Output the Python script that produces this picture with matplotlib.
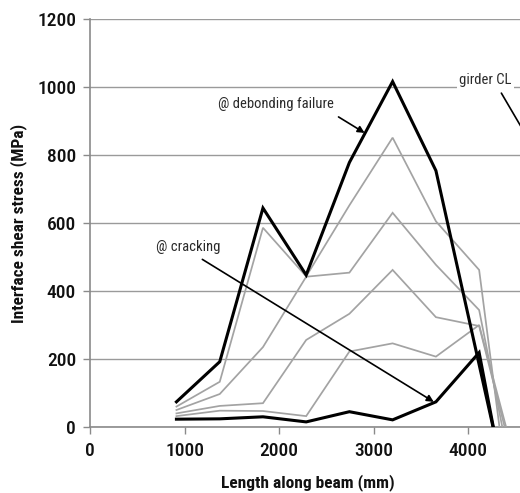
import matplotlib
matplotlib.use("Agg")
import os
import matplotlib.pyplot as plt
from matplotlib import font_manager
from matplotlib.font_manager import FontProperties

# ---- pick a condensed / narrow sans font if one is installed ----
def pick_font(target):
    prefs = ["liberation sans narrow", "arial narrow", "roboto condensed",
             "open sans condensed", "noto sans condensed", "dejavu sans condensed",
             "liberationsansnarrow", "robotocondensed", "opensanscondensed",
             "notosans-condensed", "dejavusanscondensed"]
    best = None
    best_score = None
    for f in font_manager.fontManager.ttflist:
        key = (f.name + " " + os.path.basename(f.fname)).lower()
        rank = None
        for i, p in enumerate(prefs):
            if p in key.replace("-", " ") or p in key:
                rank = i % 6
                break
        if rank is None:
            if f.stretch in ("condensed", "semi-condensed", "extra-condensed") and "sans" in key:
                rank = 7
            else:
                continue
        if "italic" in key or "oblique" in key or f.style != "normal":
            continue
        w = f.weight if isinstance(f.weight, int) else (700 if "bold" in str(f.weight) else 400)
        score = (rank, abs(w - target))
        if best_score is None or score < best_score:
            best_score = score
            best = f.fname
    return best

files = {400: pick_font(400), 500: pick_font(500), 700: pick_font(700)}

def fp(size, weight=400):
    fn = files.get(weight)
    if fn:
        return FontProperties(fname=fn, size=size)
    return FontProperties(family="DejaVu Sans", size=size * 0.85,
                          weight="bold" if weight >= 700 else "normal")

# Data (mm along beam, MPa)
x_pos = [914, 1372, 1829, 2286, 2743, 3200, 3658, 4115]

debonding = [74, 192, 644, 447, 778, 1016, 754]
debonding_x = x_pos[:7] + [4262]
debonding_y = debonding + [0]

cracking = [23, 24, 30, 15, 45, 21, 74, 219]
cracking_x = x_pos + [4265]
cracking_y = cracking + [0]

gray1 = [60, 133, 586, 443, 652, 851, 605, 462]
gray2 = [50, 97, 235, 442, 454, 630, 477, 344]
gray3 = [40, 62, 70, 256, 333, 462, 323, 297]
gray4 = [32, 48, 47, 32, 222, 246, 207, 300]
gray_series = [gray1, gray2, gray3, gray4]
gray_end_x = [4330, 4360, 4385, 4400]

x_ticks = [0, 1000, 2000, 3000, 4000]
y_ticks = [0, 200, 400, 600, 800, 1000, 1200]

W, H = 520, 493
fig = plt.figure(figsize=(W / 100, H / 100), dpi=100)
ax = fig.add_axes([90 / W, 66 / H, 435 / W, 408 / H])
ax.set_xlim(0, 4600)
ax.set_ylim(0, 1200)

for g, ex in zip(gray_series, gray_end_x):
    ax.plot(x_pos + [ex], g + [0], color="#a3a3a3", lw=1.25, solid_joinstyle="miter", zorder=3)
ax.plot(debonding_x, debonding_y, color="black", lw=2.2, solid_joinstyle="miter", zorder=4)
ax.plot(cracking_x, cracking_y, color="black", lw=2.2, solid_joinstyle="miter", zorder=4)

ax.set_xticks(x_ticks)
ax.set_yticks(y_ticks)
ax.tick_params(axis="both", colors="#8a8a8a", labelcolor="#111111",
               length=5, width=1, direction="out")
ax.tick_params(axis="x", pad=6)
ax.tick_params(axis="y", pad=5)
for lab in ax.get_xticklabels() + ax.get_yticklabels():
    lab.set_fontproperties(fp(14, 500))
ax.grid(axis="y", color="#9a9a9a", lw=1)
ax.set_axisbelow(True)
for s in ["top", "right"]:
    ax.spines[s].set_visible(False)
for s in ["left", "bottom"]:
    ax.spines[s].set_color("#8a8a8a")
    ax.spines[s].set_linewidth(1.2)

ax.set_xlabel("Length along beam (mm)", fontproperties=fp(12.5, 700), color="#111111", labelpad=10)
ax.set_ylabel("Interface shear stress (MPa)", fontproperties=fp(12.5, 700), color="#111111", labelpad=7)

arrow = dict(arrowstyle="-|>", color="black", lw=1.2, mutation_scale=10, shrinkA=0, shrinkB=0)
ax.annotate("", xy=(2904, 865), xytext=(2628, 912), arrowprops=arrow, zorder=5)
ax.text(1968, 950, "@ debonding failure", fontproperties=fp(10.5), color="#2a2a2a",
        ha="center", va="center", zorder=5)

ax.annotate("", xy=(3635, 74), xytext=(1188, 493), arrowprops=arrow, zorder=5)
ax.text(1042, 529, "@ cracking", fontproperties=fp(10.5), color="#2a2a2a",
        ha="center", va="center", zorder=5)

ax.annotate("", xy=(4700, 816), xytext=(4350, 982),
            arrowprops=dict(arrowstyle="-", color="black", lw=1.2, shrinkA=0, shrinkB=0),
            annotation_clip=False, zorder=5)
ax.text(4180, 1020, "girder CL", fontproperties=fp(10.5), color="#2a2a2a", ha="center", va="center",
        bbox=dict(facecolor="white", edgecolor="none", pad=1.5), zorder=5)

fig.savefig("out.png", dpi=100)
